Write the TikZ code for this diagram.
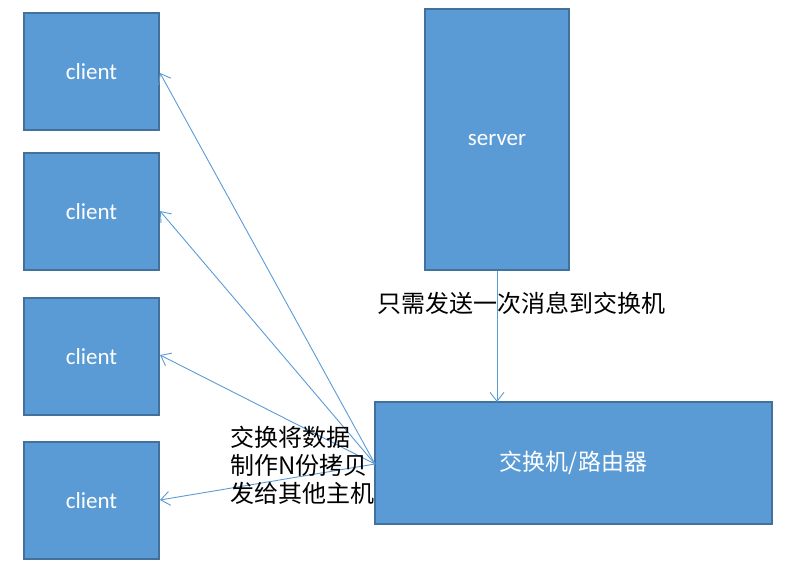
\documentclass[tikz,border=0pt]{standalone}
\usepackage{fontspec}
\setmainfont{Carlito}
\newfontfamily\cjk{Noto Sans CJK SC}
\usetikzlibrary{arrows.meta}
\definecolor{boxfill}{HTML}{5B9BD5}
\definecolor{boxline}{HTML}{41719C}
\tikzset{
  box/.style={draw=boxline, fill=boxfill, line width=1.2pt, text=white, inner sep=0pt, font=\fontsize{23}{26}\selectfont},
  conn/.style={draw=boxfill, line width=0.9pt, -{Straight Barb[length=9pt,width=14pt,line width=0.9pt]}},
  lbl/.style={text=black, font=\cjk\fontsize{24}{28}\selectfont, inner sep=0pt}
}
\begin{document}
\begin{tikzpicture}[x=1pt,y=-1pt]
\useasboundingbox (0,0) rectangle (804,574);
\node[box, minimum width=135pt, minimum height=117pt] (c1) at (91.5,71.5) {client};
\node[box, minimum width=135pt, minimum height=117pt] (c2) at (91.5,211.5) {client};
\node[box, minimum width=135pt, minimum height=117pt] (c3) at (91.5,356.5) {client};
\node[box, minimum width=135pt, minimum height=117pt] (c4) at (91.5,500.5) {client};
\node[box, minimum width=144pt, minimum height=261pt] (srv) at (497,139.5) {server};
\node[box, minimum width=397pt, minimum height=122pt, font=\cjk\fontsize{23}{26}\selectfont] (sw) at (573.5,463) {交换机/路由器};
\coordinate (swl) at (375,464);
\coordinate (swt) at (497,402);
\coordinate (t1) at (160,73);
\coordinate (t2) at (160,211);
\coordinate (t3) at (160,355);
\coordinate (t4) at (160,500);
\draw[conn] (swl) -- (t1);
\draw[conn] (swl) -- (t2);
\draw[conn] (swl) -- (t3);
\draw[conn] (swl) -- (t4);
\draw[conn] (srv.south) -- (swt);
\node[lbl, anchor=west] (m1) at (377,303) {只需发送一次消息到交换机};
\node[lbl, anchor=west, align=left] (m2) at (230,465) {交换将数据\\制作N份拷贝\\发给其他主机};
\end{tikzpicture}
\end{document}
